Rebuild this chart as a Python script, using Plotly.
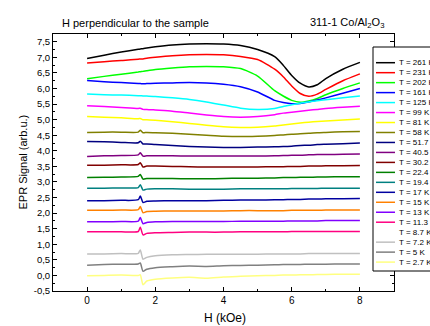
import plotly.graph_objects as go

H = [0, 0.5, 1.0, 1.5, 1.56, 1.64, 1.75, 2.0, 2.5, 3.0, 3.5, 4.0, 4.5, 5.0, 5.5, 5.75, 6.0, 6.25, 6.5, 6.75, 7.0, 7.5, 8.0]

labels = ["T = 261 K", "T = 231 K", "T = 202 K", "T = 161 K", "T = 125 K", "T = 99 K", "T = 81 K",
          "T = 58 K", "T = 51.7 K", "T = 40.5 K", "T = 30.2 K", "T = 22.4 K", "T = 19.4 K", "T = 17 K",
          "T = 15 K", "T = 13 K", "T = 11.3 K", "T = 8.7 K", "T = 7.2 K", "T = 5 K", "T = 2.7 K"]

colors = ["#000000", "#ff0000", "#00ff00", "#0000ff", "#00ffff", "#ff00ff", "#ffff00",
          "#808000", "#000080", "#800080", "#800000", "#008000", "#008080", "#0000a0",
          "#ff8000", "#8000ff", "#ff0080", "#ffffff", "#c0c0c0", "#808080", "#ffff80"]

t261 = [6.96, 7.07, 7.17, 7.26, 7.27, 7.28, 7.30, 7.34, 7.40, 7.43, 7.44, 7.43, 7.38, 7.25, 7.02, 6.75, 6.42, 6.17, 6.05, 6.12, 6.32, 6.62, 6.84]
t231 = [6.82, 6.86, 6.90, 6.94, 6.95, 6.95, 6.97, 7.00, 7.05, 7.08, 7.09, 7.08, 7.03, 6.93, 6.62, 6.38, 6.08, 5.84, 5.75, 5.82, 5.97, 6.25, 6.47]
t202 = [6.31, 6.39, 6.46, 6.53, 6.54, 6.55, 6.57, 6.61, 6.66, 6.70, 6.71, 6.70, 6.64, 6.40, 5.93, 5.76, 5.62, 5.56, 5.60, 5.68, 5.80, 6.00, 6.18]
t161 = [6.26, 6.22, 6.19, 6.16, 6.16, 6.15, 6.16, 6.17, 6.18, 6.19, 6.18, 6.14, 6.06, 5.89, 5.62, 5.55, 5.51, 5.52, 5.57, 5.63, 5.70, 5.85, 6.00]
t125 = [5.82, 5.80, 5.79, 5.77, 5.77, 5.76, 5.76, 5.74, 5.70, 5.65, 5.57, 5.47, 5.37, 5.33, 5.36, 5.42, 5.48, 5.53, 5.57, 5.61, 5.64, 5.70, 5.76]
t99 = [5.45, 5.42, 5.39, 5.36, 5.37, 5.33, 5.33, 5.31, 5.27, 5.21, 5.15, 5.10, 5.08, 5.10, 5.16, 5.21, 5.24, 5.27, 5.30, 5.33, 5.36, 5.40, 5.43]
t81 = [5.10, 5.08, 5.06, 5.03, 5.04, 5.00, 5.00, 4.98, 4.93, 4.88, 4.82, 4.77, 4.75, 4.76, 4.80, 4.83, 4.86, 4.89, 4.92, 4.94, 4.96, 4.99, 5.02]
t58 = [4.59, 4.60, 4.60, 4.60, 4.66, 4.58, 4.59, 4.58, 4.56, 4.53, 4.50, 4.47, 4.46, 4.47, 4.49, 4.51, 4.53, 4.55, 4.56, 4.58, 4.59, 4.61, 4.62]
t51_7 = [4.30, 4.29, 4.27, 4.26, 4.31, 4.22, 4.22, 4.20, 4.17, 4.14, 4.12, 4.11, 4.11, 4.12, 4.13, 4.14, 4.15, 4.17, 4.18, 4.20, 4.21, 4.23, 4.25]
t40_5 = [3.82, 3.84, 3.85, 3.87, 3.94, 3.83, 3.84, 3.84, 3.84, 3.83, 3.83, 3.83, 3.83, 3.83, 3.84, 3.85, 3.86, 3.86, 3.87, 3.88, 3.88, 3.89, 3.90]
t30_2 = [3.54, 3.54, 3.55, 3.56, 3.62, 3.48, 3.51, 3.51, 3.50, 3.49, 3.48, 3.48, 3.48, 3.48, 3.49, 3.49, 3.50, 3.50, 3.51, 3.51, 3.52, 3.52, 3.53]
t22_4 = [3.14, 3.15, 3.16, 3.18, 3.24, 3.09, 3.11, 3.11, 3.11, 3.10, 3.10, 3.11, 3.12, 3.12, 3.13, 3.14, 3.14, 3.15, 3.15, 3.16, 3.16, 3.17, 3.17]
t19_4 = [2.80, 2.80, 2.81, 2.82, 2.91, 2.74, 2.77, 2.78, 2.78, 2.77, 2.77, 2.77, 2.78, 2.78, 2.78, 2.78, 2.79, 2.79, 2.79, 2.79, 2.80, 2.80, 2.80]
t17 = [2.40, 2.40, 2.41, 2.43, 2.55, 2.34, 2.38, 2.39, 2.40, 2.40, 2.40, 2.41, 2.42, 2.42, 2.43, 2.43, 2.44, 2.44, 2.45, 2.45, 2.46, 2.46, 2.47]
t15 = [2.09, 2.09, 2.10, 2.11, 2.21, 2.01, 2.05, 2.06, 2.07, 2.07, 2.07, 2.07, 2.08, 2.08, 2.08, 2.08, 2.09, 2.09, 2.09, 2.09, 2.10, 2.10, 2.10]
t13 = [1.72, 1.72, 1.73, 1.74, 1.86, 1.66, 1.70, 1.72, 1.73, 1.73, 1.73, 1.73, 1.74, 1.74, 1.74, 1.74, 1.75, 1.75, 1.75, 1.75, 1.76, 1.76, 1.76]
t11_3 = [1.40, 1.40, 1.40, 1.41, 1.55, 1.30, 1.35, 1.37, 1.38, 1.39, 1.39, 1.39, 1.40, 1.40, 1.40, 1.40, 1.41, 1.41, 1.41, 1.41, 1.41, 1.41, 1.41]
t8_7 = [1.05, 1.05, 1.06, 1.07, 1.20, 0.93, 0.99, 1.02, 1.03, 1.04, 1.04, 1.04, 1.05, 1.05, 1.05, 1.05, 1.06, 1.06, 1.06, 1.06, 1.06, 1.06, 1.06]
t7_2 = [0.69, 0.69, 0.70, 0.71, 0.82, 0.52, 0.58, 0.63, 0.66, 0.67, 0.68, 0.68, 0.68, 0.68, 0.69, 0.69, 0.69, 0.69, 0.70, 0.70, 0.70, 0.70, 0.70]
t5 = [0.33, 0.35, 0.36, 0.37, 0.40, 0.13, 0.20, 0.25, 0.28, 0.30, 0.29, 0.31, 0.32, 0.33, 0.34, 0.35, 0.35, 0.35, 0.36, 0.36, 0.36, 0.37, 0.37]
t2_7 = [-0.01, 0.00, 0.01, 0.00, 0.02, -0.30, -0.18, -0.12, -0.08, -0.06, -0.09, -0.05, -0.03, -0.01, 0.00, 0.01, 0.01, 0.02, 0.02, 0.03, 0.03, 0.04, 0.04]

series = [t261, t231, t202, t161, t125, t99, t81, t58, t51_7, t40_5, t30_2, t22_4, t19_4,
          t17, t15, t13, t11_3, t8_7, t7_2, t5, t2_7]

ytick_vals = [-0.5, 0.0, 0.5, 1.0, 1.5, 2.0, 2.5, 3.0, 3.5, 4.0, 4.5, 5.0, 5.5, 6.0, 6.5, 7.0, 7.5]
ytick_text = [f"{v:.1f}".replace(".", ",") for v in ytick_vals]
xtick_vals = [0, 2, 4, 6, 8]

FONT = "Arial, Liberation Sans, sans-serif"

fig = go.Figure()
for name, col, vals in zip(labels, colors, series):
    fig.add_trace(go.Scatter(x=H, y=vals, mode="lines", name=name,
                             line=dict(color=col, width=1.5, shape="spline", smoothing=0.6),
                             showlegend=False))

FW, FH = 430, 326
L, R, T, B = 53, 394, 34, 291          # plot area in pixels
W, Hh = R - L, B - T
def px(x):
    return (x - L) / W
def py(y):
    return (B - y) / Hh

shapes = [dict(type="rect", xref="paper", yref="paper", x0=px(373), x1=px(440),
               y0=py(271), y1=py(47), line=dict(color="black", width=1),
               fillcolor="white", layer="above")]
annotations = []
for i, (name, col) in enumerate(zip(labels, colors)):
    yy = 62.7 + 9.97 * i
    shapes.append(dict(type="line", xref="paper", yref="paper", x0=px(376), x1=px(395),
                       y0=py(yy), y1=py(yy), line=dict(color=col, width=1.5), layer="above"))
    annotations.append(dict(text=name, xref="paper", yref="paper", x=px(396.5), y=py(yy),
                            xanchor="left", yanchor="middle", showarrow=False,
                            font=dict(size=8, color="black", family=FONT)))

annotations.append(dict(text="H perpendicular to the sample", xref="paper", yref="paper",
                        x=px(60), y=py(23), xanchor="left", yanchor="middle", showarrow=False,
                        font=dict(size=11, color="black", family=FONT)))
annotations.append(dict(text="311-1 Co/Al<sub>2</sub>O<sub>3</sub>", xref="paper", yref="paper",
                        x=px(386), y=py(23), xanchor="right", yanchor="middle", showarrow=False,
                        font=dict(size=11, color="black", family=FONT)))
annotations.append(dict(text="EPR Signal (arb.u.)", xref="paper", yref="paper",
                        x=px(22), y=py(162.5), xanchor="center", yanchor="middle", textangle=-90,
                        showarrow=False, font=dict(size=11, color="black", family=FONT)))
annotations.append(dict(text="H (kOe)", xref="paper", yref="paper",
                        x=px(225), y=py(318), xanchor="center", yanchor="middle",
                        showarrow=False, font=dict(size=12, color="black", family=FONT)))

fig.update_layout(
    width=FW, height=FH,
    margin=dict(l=L, r=FW - R, t=T, b=FH - B, pad=0),
    paper_bgcolor="white", plot_bgcolor="white",
    font=dict(family=FONT, color="black", size=10),
    shapes=shapes, annotations=annotations,
    xaxis=dict(range=[-1, 9], tickmode="array", tickvals=xtick_vals, ticktext=[str(v) for v in xtick_vals],
               ticks="inside", ticklen=4, tickcolor="black", showline=True, linecolor="black",
               linewidth=1, mirror="allticks", showgrid=False, zeroline=False, automargin=False,
               tickfont=dict(size=10),
               minor=dict(tickmode="linear", tick0=-1, dtick=1, ticks="inside", ticklen=2, tickcolor="black")),
    yaxis=dict(range=[-0.5, 7.75], tickmode="array", tickvals=ytick_vals, ticktext=ytick_text,
               ticks="inside", ticklen=4, tickcolor="black", showline=True, linecolor="black",
               linewidth=1, mirror="allticks", showgrid=False, zeroline=False, automargin=False,
               tickfont=dict(size=9.5),
               minor=dict(tickmode="linear", tick0=-0.5, dtick=0.25, ticks="inside", ticklen=2, tickcolor="black")),
)

fig.write_html("out.html", config={"displayModeBar": False},
               post_script="document.body.style.margin='0';document.body.style.overflow='hidden';")
